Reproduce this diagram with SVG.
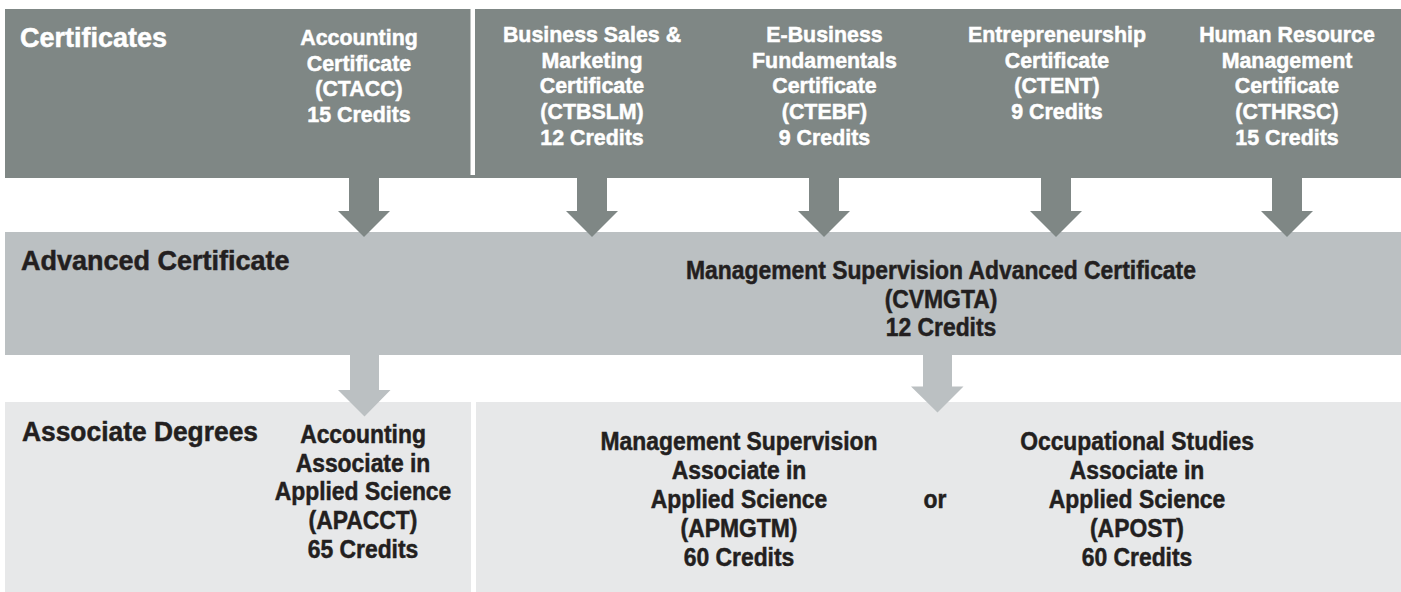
<svg xmlns="http://www.w3.org/2000/svg" width="1401" height="592" viewBox="0 0 1401 592">
<style>
.band1{fill:#7f8785}
.band2{fill:#bbc0c2}
.band3{fill:#e7e8e9}
.gap{fill:#ffffff}
.a1{fill:#7f8785}
.a2{fill:#bbc0c2}
text{font-family:"Liberation Sans",Arial,sans-serif;font-weight:bold;stroke-width:0.5px}
.hw{fill:#ffffff;stroke:#ffffff;font-size:27px}
.hd{fill:#231f20;stroke:#231f20;font-size:27px}
.tw{fill:#ffffff;stroke:#ffffff;font-size:23px;text-anchor:middle}
.td{fill:#231f20;stroke:#231f20;font-size:26px;text-anchor:middle}
</style>
<rect width="1401" height="592" fill="#ffffff"/>
<g id="bands">
<rect class="band1" x="5" y="9" width="1396" height="169"/>
<rect class="gap" x="470.5" y="0" width="4.5" height="175"/>
<rect class="band2" x="5" y="232" width="1396" height="123"/>
<rect class="band3" x="5" y="402" width="466" height="190"/>
<rect class="band3" x="476" y="402" width="925" height="190"/>
</g>
<g id="connectors">
<path class="a1" d="M349,178H379V211H390L364,237L338,211H349Z"/>
<path class="a1" d="M577,178H607V211H618L592,237L566,211H577Z"/>
<path class="a1" d="M809,178H839V211H850L824,237L798,211H809Z"/>
<path class="a1" d="M1041,178H1071V211H1082L1056,237L1030,211H1041Z"/>
<path class="a1" d="M1272,178H1302V211H1313L1287,237L1261,211H1272Z"/>
<path class="a2" d="M350,355H379V390H390.5L364.5,416.5L338,390H350Z"/>
<path class="a2" d="M923,355H952V386.5H963.5L937.5,412.5L911,386.5H923Z"/>
</g>
<g id="label-certificates"><text class="hw" x="20" y="47">Certificates</text></g>
<g id="label-advanced"><text class="hd" x="21" y="270">Advanced Certificate</text></g>
<g id="label-associate"><text class="hd" x="22" y="441" textLength="236" lengthAdjust="spacingAndGlyphs">Associate Degrees</text></g>
<g id="node-ctacc" transform="translate(359 0) scale(0.93 1)">
<text class="tw" x="0" y="45.5">Accounting</text>
<text class="tw" x="0" y="71">Certificate</text>
<text class="tw" x="0" y="96.5">(CTACC)</text>
<text class="tw" x="0" y="122">15 Credits</text>
</g>
<g id="node-ctbslm" transform="translate(592 0) scale(0.93 1)">
<text class="tw" x="0" y="42">Business Sales &amp;</text>
<text class="tw" x="0" y="67.75">Marketing</text>
<text class="tw" x="0" y="93.5">Certificate</text>
<text class="tw" x="0" y="119.25">(CTBSLM)</text>
<text class="tw" x="0" y="145">12 Credits</text>
</g>
<g id="node-ctebf" transform="translate(824.5 0) scale(0.93 1)">
<text class="tw" x="0" y="42">E-Business</text>
<text class="tw" x="0" y="67.75">Fundamentals</text>
<text class="tw" x="0" y="93.5">Certificate</text>
<text class="tw" x="0" y="119.25">(CTEBF)</text>
<text class="tw" x="0" y="145">9 Credits</text>
</g>
<g id="node-ctent" transform="translate(1057 0) scale(0.93 1)">
<text class="tw" x="0" y="42">Entrepreneurship</text>
<text class="tw" x="0" y="67.75">Certificate</text>
<text class="tw" x="0" y="93.5">(CTENT)</text>
<text class="tw" x="0" y="119.25">9 Credits</text>
</g>
<g id="node-cthrsc" transform="translate(1287 0) scale(0.93 1)">
<text class="tw" x="0" y="42">Human Resource</text>
<text class="tw" x="0" y="67.75">Management</text>
<text class="tw" x="0" y="93.5">Certificate</text>
<text class="tw" x="0" y="119.25">(CTHRSC)</text>
<text class="tw" x="0" y="145">15 Credits</text>
</g>
<g id="node-cvmgta" transform="translate(941 0) scale(0.88 1)">
<text class="td" x="0" y="279.5">Management Supervision Advanced Certificate</text>
<text class="td" x="0" y="308">(CVMGTA)</text>
<text class="td" x="0" y="336.5">12 Credits</text>
</g>
<g id="node-apacct" transform="translate(363 0) scale(0.88 1)">
<text class="td" x="0" y="443">Accounting</text>
<text class="td" x="0" y="471.75">Associate in</text>
<text class="td" x="0" y="500.5">Applied Science</text>
<text class="td" x="0" y="529.25">(APACCT)</text>
<text class="td" x="0" y="558">65 Credits</text>
</g>
<g id="node-apmgtm" transform="translate(739 0) scale(0.88 1)">
<text class="td" x="0" y="450">Management Supervision</text>
<text class="td" x="0" y="479">Associate in</text>
<text class="td" x="0" y="508">Applied Science</text>
<text class="td" x="0" y="537">(APMGTM)</text>
<text class="td" x="0" y="566">60 Credits</text>
</g>
<g id="label-or" transform="translate(935 0) scale(0.88 1)"><text class="td" x="0" y="508">or</text></g>
<g id="node-apost" transform="translate(1137 0) scale(0.88 1)">
<text class="td" x="0" y="450">Occupational Studies</text>
<text class="td" x="0" y="479">Associate in</text>
<text class="td" x="0" y="508">Applied Science</text>
<text class="td" x="0" y="537">(APOST)</text>
<text class="td" x="0" y="566">60 Credits</text>
</g>
</svg>
